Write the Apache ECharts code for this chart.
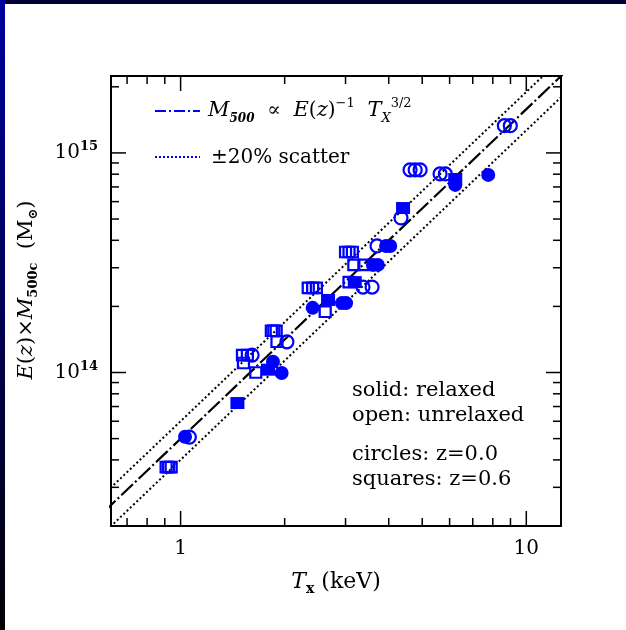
<!DOCTYPE html>
<html>
<head>
<meta charset="utf-8">
<script src="https://cdn.jsdelivr.net/npm/echarts@6/dist/echarts.min.js"></script>
<style>
  html, body { margin: 0; padding: 0; background: #ffffff; }
  #chart { width: 626px; height: 630px; }
</style>
</head>
<body>
<div id="chart"></div>
<script>
// Axis ranges (keV, solar masses)
const X_MIN = 0.629, X_MAX = 12.6;
const Y_MIN = 2e13, Y_MAX = 2.24e15;

// Relaxed clusters, z = 0 (filled circles)
const relaxedZ0T = [1.03, 1.85, 1.96, 2.41, 2.93, 3.01, 3.60, 3.72, 3.93, 4.04, 6.23, 7.76];
const relaxedZ0M = [5.1e13, 1.12e14, 9.95e13, 1.97e14, 2.07e14, 2.07e14, 3.09e14, 3.09e14, 3.77e14, 3.77e14, 7.15e14, 7.94e14];

// Relaxed clusters, z = 0.6 (filled squares)
const relaxedZ06T = [1.46, 1.79, 2.67, 3.19, 4.40, 6.23];
const relaxedZ06M = [7.26e13, 1.03e14, 2.14e14, 2.58e14, 5.61e14, 7.61e14];

// Unrelaxed clusters, z = 0 (open circles)
const unrelaxedZ0T = [1.06, 1.61, 2.03, 3.37, 3.58, 3.70, 4.34, 4.61, 4.77, 4.93, 5.63, 5.83, 8.64, 8.99];
const unrelaxedZ0M = [5.08e13, 1.20e14, 1.38e14, 2.45e14, 2.45e14, 3.77e14, 5.06e14, 8.37e14, 8.37e14, 8.37e14, 8.02e14, 8.02e14, 1.33e15, 1.33e15];

// Unrelaxed clusters, z = 0.6 (open squares)
const unrelaxedZ06T = [0.908, 0.923, 0.939, 1.51, 1.56, 1.52, 1.65, 1.83, 1.86, 1.89, 1.90, 2.34, 2.41, 2.47, 3.07, 2.62, 3.00, 3.07, 3.14, 3.17, 3.39];
const unrelaxedZ06M = [3.71e13, 3.71e13, 3.71e13, 1.20e14, 1.20e14, 1.105e14, 1.0e14, 1.55e14, 1.55e14, 1.55e14, 1.38e14, 2.43e14, 2.43e14, 2.43e14, 2.58e14, 1.89e14, 3.54e14, 3.54e14, 3.54e14, 3.09e14, 3.09e14];

// M500 ∝ E(z)^-1 T^3/2 relation and its ±20% band (end points of straight log-log lines)
const relationT = [0.6, 14];
const relationM = [2.32e13, 2.62e15];
const upperM = [2.79e13, 3.14e15];
const lowerM = [1.86e13, 2.10e15];

// Tick positions
const xTickValues = [0.7, 0.8, 0.9, 1, 2, 3, 4, 5, 6, 7, 8, 9, 10];
const xMajorTicks = [1, 10];
const yTickValues = [3e13, 4e13, 5e13, 6e13, 7e13, 8e13, 9e13, 1e14, 2e14, 3e14, 4e14, 5e14, 6e14, 7e14, 8e14, 9e14, 1e15, 2e15];
const yMajorTicks = [1e14, 1e15];

const BLUE = '#0000ff';
const SERIF = '"DejaVu Serif", "Liberation Serif", serif';

const zip = (a, b) => a.map((v, i) => [v, b[i]]);
const isPow10 = v => { const e = Math.log10(v); return Math.abs(e - Math.round(e)) < 1e-6; };

const chart = echarts.init(document.getElementById('chart'), null, { renderer: 'canvas' });

function lineSeries(name, m, dash, width) {
  return {
    name, type: 'line', data: zip(relationT, m), symbol: 'none', silent: true,
    lineStyle: { color: '#000', width: width, type: dash, opacity: 1 }, z: 2, clip: true
  };
}

const openStyle = { color: 'rgba(255,255,255,0)', borderColor: BLUE, borderWidth: 2.2, opacity: 1 };
const solidStyle = { color: BLUE, opacity: 1 };

function note(text, x, y) {
  return { type: 'text', x, y, z: 10,
    style: { text, fontFamily: SERIF, fontSize: 21, fill: '#000', align: 'left', verticalAlign: 'middle' } };
}

const option = {
  animation: false,
  backgroundColor: '#ffffff',
  grid: { left: 111, top: 76, right: 65, bottom: 104, show: true, borderColor: '#000', borderWidth: 2, backgroundColor: 'transparent' },
  xAxis: {
    type: 'log', logBase: 10, min: X_MIN, max: X_MAX,
    axisLine: { show: false }, axisTick: { show: false }, splitLine: { show: false }, minorTick: { show: false },
    axisLabel: {
      margin: 13, color: '#000', fontFamily: SERIF, fontSize: 20,
      showMinLabel: false, showMaxLabel: false,
      formatter: v => isPow10(v) ? String(Math.round(v)) : ''
    },
    name: '{i|T}{sub|x} (keV)', nameLocation: 'middle', nameGap: 42,
    nameTextStyle: {
      color: '#000', fontFamily: SERIF, fontSize: 22, lineHeight: 28,
      rich: {
        i: { fontFamily: SERIF, fontSize: 22, fontStyle: 'italic', lineHeight: 28, color: '#000' },
        sub: { fontFamily: SERIF, fontSize: 14, fontWeight: 'bold', verticalAlign: 'bottom', lineHeight: 17, color: '#000' }
      }
    }
  },
  yAxis: {
    type: 'log', logBase: 10, min: Y_MIN, max: Y_MAX,
    axisLine: { show: false }, axisTick: { show: false }, splitLine: { show: false }, minorTick: { show: false },
    axisLabel: {
      margin: 13, color: '#000', fontFamily: SERIF, fontSize: 20,
      showMinLabel: false, showMaxLabel: false,
      formatter: v => isPow10(v) ? '{b|10}{s|' + Math.round(Math.log10(v)) + '}' : '',
      rich: {
        b: { fontFamily: SERIF, fontSize: 20, lineHeight: 25, color: '#000' },
        s: { fontFamily: SERIF, fontSize: 13, fontWeight: 'bold', verticalAlign: 'top', lineHeight: 15, color: '#000' }
      }
    }
  },
  series: [
    lineSeries('upper', upperM, [2, 2.5], 2),
    lineSeries('lower', lowerM, [2, 2.5], 2),
    lineSeries('relation', relationM, [16, 3, 2, 3], 2.2),
    {
      name: 'unrelaxed z=0.6', type: 'scatter', symbol: 'rect', symbolSize: [11, 10.5],
      data: zip(unrelaxedZ06T, unrelaxedZ06M), itemStyle: openStyle, z: 3
    },
    {
      name: 'unrelaxed z=0', type: 'scatter', symbol: 'circle', symbolSize: 13,
      data: zip(unrelaxedZ0T, unrelaxedZ0M), itemStyle: openStyle, z: 3
    },
    {
      name: 'relaxed z=0.6', type: 'scatter', symbol: 'rect', symbolSize: [14, 12],
      data: zip(relaxedZ06T, relaxedZ06M), itemStyle: solidStyle, z: 4
    },
    {
      name: 'relaxed z=0', type: 'scatter', symbol: 'circle', symbolSize: 14,
      data: zip(relaxedZ0T, relaxedZ0M), itemStyle: solidStyle, z: 4
    },
    {
      // tick marks on bottom and top edges
      type: 'custom', silent: true, clip: false, z: 5,
      data: xTickValues.map(v => [v, Y_MIN, xMajorTicks.includes(v) ? 1 : 0]),
      encode: { x: 0, y: 1 },
      renderItem: (params, api) => {
        const v = api.value(0), len = api.value(2) ? 15 : 8;
        const b = api.coord([v, Y_MIN]), t = api.coord([v, Y_MAX]);
        const st = { stroke: '#000', lineWidth: 1.5 };
        return { type: 'group', children: [
          { type: 'line', shape: { x1: b[0], y1: b[1], x2: b[0], y2: b[1] - len }, style: st },
          { type: 'line', shape: { x1: t[0], y1: t[1], x2: t[0], y2: t[1] + len }, style: st }
        ] };
      }
    },
    {
      // tick marks on left and right edges
      type: 'custom', silent: true, clip: false, z: 5,
      data: yTickValues.map(v => [X_MIN, v, yMajorTicks.includes(v) ? 1 : 0]),
      encode: { x: 0, y: 1 },
      renderItem: (params, api) => {
        const v = api.value(1), len = api.value(2) ? 15 : 8;
        const l = api.coord([X_MIN, v]), r = api.coord([X_MAX, v]);
        const st = { stroke: '#000', lineWidth: 1.5 };
        return { type: 'group', children: [
          { type: 'line', shape: { x1: l[0], y1: l[1], x2: l[0] + len, y2: l[1] }, style: st },
          { type: 'line', shape: { x1: r[0], y1: r[1], x2: r[0] - len, y2: r[1] }, style: st }
        ] };
      }
    }
  ],
  graphic: [
    // slide frame
    { type: 'rect', shape: { x: 0, y: 0, width: 626, height: 4 }, style: { fill: '#000033' }, z: 10 },
    { type: 'rect', shape: { x: 0, y: 0, width: 5, height: 630 }, z: 11,
      style: { fill: new echarts.graphic.LinearGradient(0, 0, 0, 1, [
        { offset: 0, color: '#0000a0' }, { offset: 1, color: '#000006' }]) } },
    // y axis title
    { type: 'text', x: 27, y: 290, rotation: Math.PI / 2, z: 10,
      style: {
        text: '{i|E}({i|z})×{i|M}{sub|500c}  (M{sub|⊙})',
        fontFamily: SERIF, fontSize: 21, lineHeight: 27, fill: '#000', align: 'center', verticalAlign: 'middle',
        rich: {
          i: { fontFamily: SERIF, fontSize: 21, fontStyle: 'italic', lineHeight: 27, fill: '#000' },
          sub: { fontFamily: SERIF, fontSize: 13, fontWeight: 'bold', verticalAlign: 'bottom', lineHeight: 15, fill: '#000' }
        }
      } },
    // relation key
    { type: 'line', shape: { x1: 155, y1: 111, x2: 200, y2: 111 }, z: 10,
      style: { stroke: BLUE, lineWidth: 2, lineDash: [11, 3, 2, 3] } },
    { type: 'text', x: 208, y: 111, z: 10,
      style: {
        text: '{i|M}{sub|500}  ∝  {i|E}({i|z}){sup|−1}  {i|T}{subi|X}{sup|3/2}',
        fontFamily: SERIF, fontSize: 20, lineHeight: 28, fill: '#000', align: 'left', verticalAlign: 'middle',
        rich: {
          i: { fontFamily: SERIF, fontSize: 21, fontStyle: 'italic', lineHeight: 28, fill: '#000' },
          sub: { fontFamily: SERIF, fontSize: 12, fontStyle: 'italic', fontWeight: 'bold', verticalAlign: 'bottom', lineHeight: 13, fill: '#000' },
          subi: { fontFamily: SERIF, fontSize: 13, fontStyle: 'italic', verticalAlign: 'bottom', lineHeight: 15, fill: '#000' },
          sup: { fontFamily: SERIF, fontSize: 13, verticalAlign: 'top', lineHeight: 15, fill: '#000' }
        }
      } },
    // scatter key
    { type: 'line', shape: { x1: 155, y1: 157, x2: 200, y2: 157 }, z: 10,
      style: { stroke: BLUE, lineWidth: 2, lineDash: [2, 2] } },
    { type: 'text', x: 211, y: 158, z: 10,
      style: { text: '±20% scatter', fontFamily: SERIF, fontSize: 20, fill: '#000', align: 'left', verticalAlign: 'middle' } },
    // marker notes
    note('solid: relaxed', 352, 391),
    note('open: unrelaxed', 352, 416),
    note('circles: z=0.0', 352, 455),
    note('squares: z=0.6', 352, 480)
  ]
};

chart.setOption(option);
</script>
</body>
</html>
